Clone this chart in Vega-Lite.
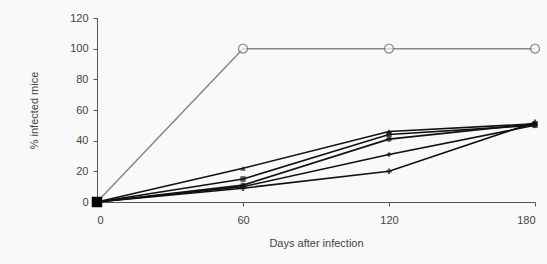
{
  "$schema": "https://vega.github.io/schema/vega-lite/v6.json",
  "width": 438,
  "height": 184,
  "autosize": "none",
  "padding": {"left": 97, "top": 18, "right": 12, "bottom": 62},
  "background": "#f9f9f9",
  "config": {
    "view": {"stroke": null},
    "axis": {"labelFont": "Liberation Sans", "titleFont": "Liberation Sans", "labelFontSize": 11, "titleFontSize": 11, "titleFontWeight": "normal", "labelColor": "#444", "titleColor": "#444", "domainColor": "#555", "tickColor": "#555", "grid": false, "tickSize": 4}
  },
  "data": {"values": [
    {"day": 0, "pct": 0, "group": "control"},
    {"day": 60, "pct": 100, "group": "control"},
    {"day": 120, "pct": 100, "group": "control"},
    {"day": 180, "pct": 100, "group": "control"},
    {"day": 0, "pct": 0, "group": "A"},
    {"day": 60, "pct": 22, "group": "A"},
    {"day": 120, "pct": 46, "group": "A"},
    {"day": 180, "pct": 51, "group": "A"},
    {"day": 0, "pct": 0, "group": "B"},
    {"day": 60, "pct": 15, "group": "B"},
    {"day": 120, "pct": 44, "group": "B"},
    {"day": 180, "pct": 50, "group": "B"},
    {"day": 0, "pct": 0, "group": "C"},
    {"day": 60, "pct": 11, "group": "C"},
    {"day": 120, "pct": 41, "group": "C"},
    {"day": 180, "pct": 51, "group": "C"},
    {"day": 0, "pct": 0, "group": "D"},
    {"day": 60, "pct": 10, "group": "D"},
    {"day": 120, "pct": 31, "group": "D"},
    {"day": 180, "pct": 50, "group": "D"},
    {"day": 0, "pct": 0, "group": "E"},
    {"day": 60, "pct": 9, "group": "E"},
    {"day": 120, "pct": 20, "group": "E"},
    {"day": 180, "pct": 52, "group": "E"}
  ]},
  "encoding": {
    "x": {"field": "day", "type": "quantitative", "scale": {"domain": [0, 180]}, "axis": {"values": [0, 60, 120, 180], "title": "Days after infection", "titlePadding": 12, "labelPadding": 8}},
    "y": {"field": "pct", "type": "quantitative", "scale": {"domain": [0, 120]}, "axis": {"values": [0, 20, 40, 60, 80, 100, 120], "title": "% infected mice", "titlePadding": 30, "labelPadding": 5}}
  },
  "layer": [
    {
      "transform": [{"filter": "datum.group == 'control'"}],
      "mark": {"type": "line", "color": "#888", "strokeWidth": 1.5}
    },
    {
      "transform": [{"filter": "datum.group == 'control' && datum.day > 0"}],
      "mark": {"type": "point", "shape": "circle", "filled": true, "fill": "#f9f9f9", "stroke": "#666", "strokeWidth": 1.3, "size": 80}
    },
    {
      "transform": [{"filter": "datum.group != 'control'"}],
      "mark": {"type": "line", "color": "#111", "strokeWidth": 1.6},
      "encoding": {"detail": {"field": "group"}}
    },
    {
      "transform": [{"filter": "datum.group != 'control' && datum.day > 0"}],
      "mark": {"type": "point", "filled": true, "color": "#111", "size": 30},
      "encoding": {"shape": {"field": "group", "type": "nominal", "scale": {"domain": ["A", "B", "C", "D", "E"], "range": ["triangle-up", "square", "circle", "diamond", "cross"]}, "legend": null}}
    },
    {
      "transform": [{"filter": "datum.day == 0 && datum.group == 'A'"}],
      "mark": {"type": "square", "color": "#000", "opacity": 1, "size": 110}
    }
  ]
}
